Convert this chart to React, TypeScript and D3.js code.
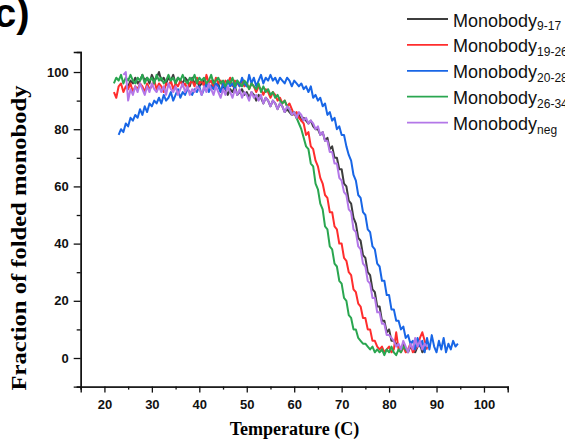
import React, { useEffect, useRef } from "react";
import * as d3 from "d3";

const seriesLabels = ["9-17", "19-26", "20-28", "26-34", "neg"];
const seriesColors = ["#3d3d3d", "#ff2d2d", "#1866e6", "#2aa650", "#b377e8"];
const startTemps = [25, 22, 23, 22, 24];
const tempStep = 0.5;

const mono917 = [
  95, 97, 96, 98, 96, 97, 99, 97, 98, 96, 99, 97, 98, 100, 97, 98,
  96, 98, 97, 99, 96, 98, 97, 96, 98, 97, 95, 98, 96, 97, 95, 96,
  97, 95, 96, 94, 97, 95, 96, 93, 95, 94, 92, 94, 93, 95, 92, 93,
  94, 92, 93, 91, 93, 92, 90, 92, 91, 89, 91, 90, 88, 90, 89, 87,
  89, 88, 86, 87, 86, 85, 86, 84, 85, 83, 84, 83, 82, 83, 81, 80,
  80, 78, 79, 76, 77, 73, 74, 70, 70, 66, 66, 61, 60, 55, 54, 49,
  47, 42, 41, 36, 35, 30, 29, 24, 23, 18, 18, 13, 13, 9, 10, 6,
  6, 5, 4, 3, 5, 3, 2, 4, 3, 2, 4, 5, 2, 3, 4,
];

const mono1926 = [
  93, 91, 95, 96, 93, 95, 94, 96, 93, 95, 94, 96, 95, 93, 96, 94,
  95, 97, 94, 96, 95, 93, 96, 95, 97, 94, 96, 95, 97, 95, 96, 94,
  96, 97, 95, 98, 96, 97, 95, 99, 96, 97, 95, 98, 96, 97, 95, 97,
  96, 98, 95, 97, 96, 95, 97, 95, 96, 94, 96, 95, 93, 95, 94, 92,
  94, 93, 91, 93, 92, 90, 91, 89, 90, 88, 89, 87, 85, 86, 84, 83,
  82, 78, 79, 74, 73, 69, 67, 63, 61, 57, 56, 51, 51, 46, 45, 40,
  40, 35, 34, 30, 29, 24, 23, 19, 18, 14, 14, 10, 10, 6, 6, 4,
  3, 4, 2, 3, 4, 2, 3, 9, 3, 2, 4, 2, 3, 5, 2, 3,
  4, 7, 9, 6, 3,
];

const mono2028 = [
  78, 80, 79, 82, 81, 84, 83, 85, 84, 87, 85, 88, 86, 89, 88, 90,
  89, 91, 89, 92, 90, 91, 93, 90, 92, 94, 91, 93, 92, 94, 93, 92,
  94, 93, 95, 92, 94, 96, 93, 95, 94, 96, 95, 93, 96, 94, 97, 95,
  96, 94, 97, 95, 98, 96, 95, 99, 96, 98, 95, 97, 99, 96, 98, 97,
  99, 97, 98, 96, 98, 97, 96, 98, 97, 95, 97, 96, 95, 96, 94, 95,
  93, 95, 91, 92, 90, 91, 88, 89, 85, 86, 83, 84, 80, 81, 78, 78,
  74, 71, 69, 64, 62, 57, 56, 51, 50, 45, 44, 39, 38, 33, 32, 27,
  27, 22, 22, 17, 17, 13, 13, 10, 11, 7, 8, 5, 6, 3, 7, 4,
  6, 2, 7, 3, 8, 4, 2, 6, 3, 7, 2, 5, 3, 6, 4, 5,
];

const mono2634 = [
  96, 98, 97, 99, 96, 98, 97, 99, 97, 96, 98, 97, 99, 96, 98, 97,
  98, 96, 99, 97, 98, 96, 97, 99, 97, 98, 96, 98, 97, 99, 97, 96,
  98, 97, 99, 96, 98, 97, 98, 96, 97, 99, 96, 97, 98, 96, 97, 95,
  97, 96, 98, 95, 97, 96, 95, 97, 96, 94, 96, 95, 94, 96, 93, 95,
  93, 94, 92, 93, 91, 92, 90, 89, 90, 88, 87, 85, 86, 84, 82, 80,
  77, 74, 73, 68, 67, 61, 59, 54, 52, 46, 45, 39, 38, 33, 32, 27,
  26, 21, 20, 15, 14, 10, 10, 7, 6, 5, 5, 4, 3, 4, 2, 3,
  2, 3, 1, 3, 2, 4, 2, 1, 3, 2, 4, 3, 2,
];

const monoNeg = [
  99, 100, 90, 94, 92, 95, 93, 96, 94, 92, 95, 93, 96, 94, 93, 95,
  93, 95, 92, 96, 94, 93, 95, 92, 94, 96, 93, 95, 92, 94, 93, 95,
  94, 92, 95, 93, 96, 94, 92, 95, 93, 91, 94, 92, 95, 93, 91, 94,
  92, 94, 91, 93, 92, 90, 93, 91, 92, 90, 92, 89, 91, 90, 88, 90,
  89, 87, 89, 88, 86, 88, 87, 85, 86, 84, 86, 85, 83, 84, 82, 83,
  82, 80, 81, 78, 79, 76, 76, 72, 72, 68, 68, 63, 62, 58, 57, 52,
  51, 45, 44, 39, 38, 33, 32, 27, 26, 21, 21, 16, 16, 12, 12, 8,
  8, 7, 6, 4, 5, 3, 6, 4, 2, 5, 3, 7, 4, 6, 3, 5,
  4,
];

const seriesValues = [mono917, mono1926, mono2028, mono2634, monoNeg];

const xTicks = [20, 30, 40, 50, 60, 70, 80, 90, 100];
const xMinorTicks = [15, 25, 35, 45, 55, 65, 75, 85, 95, 105];
const yTicks = [0, 20, 40, 60, 80, 100];
const yMinorTicks = [-10, 10, 30, 50, 70, 90];

const W = 565;
const H = 441;

export default function App() {
  const xAxisRef = useRef<SVGGElement>(null);
  const xMinorRef = useRef<SVGGElement>(null);
  const yAxisRef = useRef<SVGGElement>(null);
  const yMinorRef = useRef<SVGGElement>(null);

  const x = d3.scaleLinear().domain([15, 105]).range([80.7, 507.7]);
  const y = d3.scaleLinear().domain([-10, 107]).range([386.6, 52]);

  useEffect(() => {
    const styleAxis = (g: any) => {
      g.select(".domain").attr("stroke", "#111").attr("stroke-width", 1.4);
      g.selectAll(".tick line").attr("stroke", "#111").attr("stroke-width", 1.3);
      g.selectAll(".tick text")
        .attr("fill", "#111")
        .style("font-family", "Arial, 'Liberation Sans', sans-serif")
        .style("font-weight", "bold")
        .style("font-size", "13px");
    };
    if (xAxisRef.current) {
      const g = d3.select(xAxisRef.current);
      g.call(d3.axisBottom(x).tickValues(xTicks).tickSize(6).tickPadding(7).tickFormat(d3.format("d")) as any);
      styleAxis(g);
    }
    if (xMinorRef.current) {
      const g = d3.select(xMinorRef.current);
      g.call(d3.axisBottom(x).tickValues(xMinorTicks).tickSize(3).tickFormat(() => "") as any);
      styleAxis(g);
    }
    if (yAxisRef.current) {
      const g = d3.select(yAxisRef.current);
      g.call(d3.axisLeft(y).tickValues(yTicks).tickSize(7).tickPadding(5).tickFormat(d3.format("d")) as any);
      styleAxis(g);
    }
    if (yMinorRef.current) {
      const g = d3.select(yMinorRef.current);
      g.call(d3.axisLeft(y).tickValues(yMinorTicks).tickSize(4).tickFormat(() => "") as any);
      styleAxis(g);
    }
  }, []);

  const paths = seriesValues.map((vals, s) => {
    const gen = d3
      .line<number>()
      .x((_, i) => x(startTemps[s] + i * tempStep))
      .y((v) => y(v));
    return gen(vals) || "";
  });

  const legendX1 = 407;
  const legendX2 = 448;
  const legendY0 = 19;
  const legendDy = 25.9;

  return (
    <svg
      width={W}
      height={H}
      style={{ position: "absolute", left: 0, top: 0, background: "#fff" }}
    >
      <rect x={0} y={0} width={W} height={H} fill="#fff" />
      <text
        x={-6}
        y={27}
        fontFamily="Arial, 'Liberation Sans', sans-serif"
        fontWeight="bold"
        fontSize={40}
        fill="#000"
      >
        c)
      </text>

      {paths.map((d, i) => (
        <path key={i} d={d} fill="none" stroke={seriesColors[i]} strokeWidth={2} strokeLinejoin="round" />
      ))}

      <g ref={xMinorRef} transform={`translate(0,${y(-10)})`} />
      <g ref={xAxisRef} transform={`translate(0,${y(-10)})`} />
      <g ref={yMinorRef} transform={`translate(${x(15)},0)`} />
      <g ref={yAxisRef} transform={`translate(${x(15)},0)`} />

      <text
        x={294.5}
        y={435}
        textAnchor="middle"
        fontFamily="'Times New Roman', 'Liberation Serif', serif"
        fontWeight="bold"
        fontSize={18}
        fill="#000"
      >
        Temperature (C)
      </text>
      <text
        transform="translate(26,238) rotate(-90)"
        textAnchor="middle"
        fontFamily="'Times New Roman', 'Liberation Serif', serif"
        fontWeight="bold"
        fontSize={21}
        textLength={305}
        lengthAdjust="spacingAndGlyphs"
        fill="#000"
      >
        Fraction of folded monobody
      </text>

      {seriesLabels.map((lab, i) => {
        const ly = legendY0 + i * legendDy;
        return (
          <g key={lab}>
            <line x1={legendX1} x2={legendX2} y1={ly} y2={ly} stroke={seriesColors[i]} strokeWidth={1.8} />
            <text
              x={453}
              y={ly + 7.5}
              fontFamily="Arial, 'Liberation Sans', sans-serif"
              fontSize={18}
              fill="#111"
            >
              Monobody
              <tspan fontSize={12} dy={3.5}>
                {lab}
              </tspan>
            </text>
          </g>
        );
      })}
    </svg>
  );
}
